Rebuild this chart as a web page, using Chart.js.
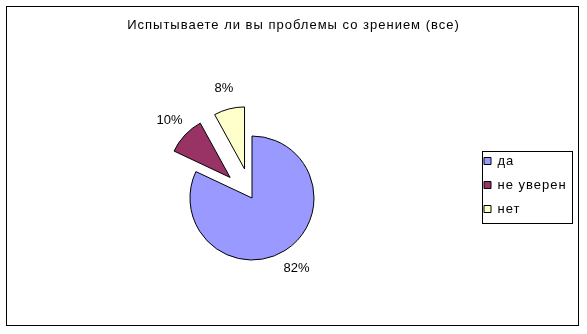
<!DOCTYPE html>
<html>
<head>
<meta charset="utf-8">
<script src="https://cdn.jsdelivr.net/npm/chart.js@4"></script>
<style>
  html, body { margin: 0; padding: 0; background: #fff; }
  canvas { display: block; }
</style>
</head>
<body>
<canvas id="grafico" width="587" height="334"></canvas>
<script>
const titulo = 'Испытываете ли вы проблемы со зрением (все)';
const categorias = ['да', 'не уверен', 'нет'];
const valores = [82, 10, 8];
const cores = ['#9999ff', '#993366', '#ffffcc'];

const fonte = '"Liberation Sans", Arial, sans-serif';

// moldura, fatias destacadas, rótulos de porcentagem e caixa da legenda
const extras = {
  id: 'extras',
  beforeLayout(chart) {
    chart.ctx.letterSpacing = '1px';
  },
  afterLayout(chart) {
    // título centrado na largura toda
    chart.titleBlock.left = 0;
    chart.titleBlock.right = chart.width;
  },
  afterDatasetsUpdate(chart, args, opts) {
    const meta = chart.getDatasetMeta(0);
    meta.data.forEach((arc, i) => {
      if (!opts.destacar.includes(i)) return;
      const meio = (arc.startAngle + arc.endAngle) / 2;
      arc.x += Math.cos(meio) * opts.afastamento;
      arc.y += Math.sin(meio) * opts.afastamento;
    });
  },
  beforeDraw(chart) {
    const ctx = chart.ctx;
    ctx.save();
    ctx.fillStyle = '#fff';
    ctx.fillRect(0, 0, chart.width, chart.height);
    ctx.strokeStyle = '#000';
    ctx.lineWidth = 1;
    ctx.strokeRect(6.5, 6.5, chart.width - 15, chart.height - 15);
    ctx.restore();
    ctx.letterSpacing = '1px';
  },
  beforeDatasetsDraw(chart) {
    chart.ctx.letterSpacing = '0px';
  },
  afterDatasetsDraw(chart) {
    const ctx = chart.ctx;
    const meta = chart.getDatasetMeta(0);
    const total = valores.reduce((a, b) => a + b, 0);
    ctx.save();
    ctx.font = '13px ' + fonte;
    ctx.fillStyle = '#000';
    ctx.textAlign = 'center';
    ctx.textBaseline = 'middle';
    meta.data.forEach((arc, i) => {
      const meio = (arc.startAngle + arc.endAngle) / 2;
      const d = arc.outerRadius + 21;
      const txt = Math.round(valores[i] / total * 100) + '%';
      ctx.fillText(txt, arc.x + Math.cos(meio) * d, arc.y + Math.sin(meio) * d);
    });
    ctx.restore();
  },
  afterDraw(chart) {
    const caixas = chart.legend.legendHitBoxes;
    if (!caixas || !caixas.length) return;
    const esq = Math.min(...caixas.map(c => c.left)) - 2;
    const dir = Math.max(...caixas.map(c => c.left + c.width)) + 5;
    const topo = caixas[0].top - 4;
    const base = caixas[caixas.length - 1].top + caixas[caixas.length - 1].height + 7;
    const ctx = chart.ctx;
    ctx.save();
    ctx.strokeStyle = '#000';
    ctx.lineWidth = 1;
    ctx.strokeRect(Math.round(esq) + 0.5, Math.round(topo) + 0.5, Math.round(dir - esq), Math.round(base - topo));
    ctx.restore();
  }
};

new Chart(document.getElementById('grafico'), {
  type: 'pie',
  data: {
    labels: categorias,
    datasets: [{
      data: valores,
      backgroundColor: cores,
      borderColor: '#000',
      borderWidth: 1,
      hoverOffset: 0
    }]
  },
  options: {
    responsive: false,
    animation: false,
    events: [],
    radius: 62,
    layout: {
      padding: { left: 31, right: 14, top: 0, bottom: 10 }
    },
    plugins: {
      extras: { destacar: [1, 2], afastamento: 30 },
      title: {
        display: true,
        text: titulo,
        color: '#000',
        font: { family: fonte, size: 13, weight: 'normal', lineHeight: 1.2 },
        padding: { top: 17.2, bottom: 39.2 }
      },
      legend: {
        position: 'right',
        maxWidth: 100,
        title: {
          display: true,
          text: ' ',
          font: { family: fonte, size: 12, lineHeight: 1.2 },
          padding: { top: 0, bottom: 31.6 }
        },
        labels: {
          boxWidth: 7,
          boxHeight: 7,
          padding: 11,
          color: '#000',
          font: { family: fonte, size: 13 }
        }
      },
      tooltip: { enabled: false }
    }
  },
  plugins: [extras]
});
</script>
</body>
</html>
